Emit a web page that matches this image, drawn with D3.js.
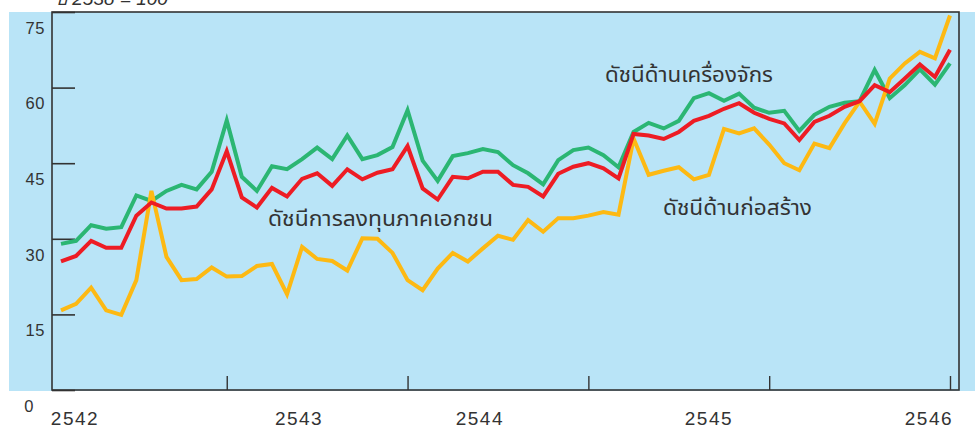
<!DOCTYPE html>
<html>
<head>
<meta charset="utf-8">
<script src="https://cdn.jsdelivr.net/npm/d3@7"></script>
<style>
  body { margin: 0; background: #fff; }
  svg { display: block; }
</style>
</head>
<body>
<svg id="chart" width="975" height="426"></svg>
<script>
// monthly index values, 2542 - 2546 (base year 2538 = 100)
const machinery = [
  29.0, 29.6, 32.7, 32.0, 32.3, 38.6, 37.5, 39.5, 40.7, 39.8, 43.3, 53.5,
  42.3, 39.5, 44.4, 43.8, 45.8, 48.1, 45.8, 50.5, 45.8, 46.6, 48.2, 55.5,
  45.5, 41.5, 46.4, 47.0, 47.8, 47.2, 44.6, 43.0, 40.8, 45.6, 47.6, 48.1,
  46.6, 44.2, 51.2, 53.0, 51.9, 53.4, 57.9, 58.9, 57.4, 58.8, 56.0, 55.0,
  55.4, 51.4, 54.6, 56.2, 57.0, 57.3, 63.5, 57.9, 60.5, 63.6, 60.6, 64.8
];
const privateInv = [
  25.5, 26.6, 29.6, 28.2, 28.2, 34.6, 37.2, 36.0, 36.0, 36.4, 39.8, 47.4,
  38.2, 36.2, 40.1, 38.4, 41.9, 43.0, 40.5, 43.8, 41.8, 43.1, 43.8, 48.4,
  40.0, 37.8, 42.3, 42.0, 43.3, 43.3, 40.7, 40.3, 38.4, 42.9, 44.3, 45.0,
  44.0, 42.0, 50.8, 50.5, 49.8, 51.2, 53.4, 54.4, 55.8, 56.9, 55.0, 53.8,
  52.9, 49.6, 53.2, 54.4, 56.2, 57.3, 60.5, 59.1, 61.8, 64.6, 62.1, 67.5
];
const construction = [
  15.8, 17.1, 20.3, 15.8, 14.9, 21.8, 39.5, 26.4, 21.8, 22.0, 24.3, 22.5,
  22.6, 24.6, 25.0, 19.0, 28.4, 26.0, 25.6, 23.7, 30.1, 30.0, 27.2, 21.8,
  19.8, 24.1, 27.2, 25.5, 28.1, 30.6, 29.8, 33.7, 31.4, 34.1, 34.1, 34.6,
  35.3, 34.8, 49.9, 42.7, 43.5, 44.2, 41.8, 42.7, 51.8, 50.9, 51.9, 48.7,
  45.0, 43.6, 48.9, 48.0, 52.9, 57.2, 52.8, 61.8, 64.8, 67.1, 65.8, 74.3
];
const years = ['2542', '2543', '2544', '2545', '2546'];
const yTicks = [0, 15, 30, 45, 60, 75];
const yearEnds = [11, 23, 35, 47, 59]; // month index where each year ends
const seriesNames = ['ดัชนีด้านเครื่องจักร', 'ดัชนีการลงทุนภาคเอกชน', 'ดัชนีด้านก่อสร้าง'];
const unitText = 'ปี 2538 = 100';

function drawChart() {
    const svg = d3.select('#chart');
    const plot = { left: 52, right: 959, top: 12, bottom: 390 };
    const thaiFont = '"Noto Sans Thai", "Noto Sans", "DejaVu Sans", sans-serif';
    const numFont = '"Liberation Sans", Arial, sans-serif';
    const ink = '#333';

    const xScale = d3.scaleLinear()
        .domain([0, 59])
        .range([61, 950]);
    const yScale = d3.scaleLinear()
        .domain([0, 75])
        .range([plot.bottom, plot.top]);

    // blue panel
    svg.append('rect')
        .attr('x', 9).attr('y', plot.top)
        .attr('width', 975 - 9).attr('height', plot.bottom - plot.top + 1)
        .style('fill', '#b9e4f7');

    // unit text, mostly cut off at the top
    svg.append('text')
        .attr('x', 55).attr('y', 5)
        .style('font-family', numFont)
        .style('font-style', 'italic')
        .style('font-size', '19px')
        .style('fill', ink)
        .text(unitText);

    // y axis ticks (inside)
    const yAxis = svg.append('g')
        .attr('transform', `translate(${plot.left},0)`)
        .call(d3.axisLeft(yScale).tickValues(yTicks).tickSize(-23).tickFormat(''));
    yAxis.select('.domain').remove();
    yAxis.selectAll('line').style('stroke', ink).style('stroke-width', 1.6);

    svg.append('g').selectAll('text')
        .data(yTicks)
        .join('text')
        .attr('x', d => d === 0 ? 34 : 45)
        .attr('y', d => yScale(d) + 16)
        .attr('dy', '0.35em')
        .style('text-anchor', 'end')
        .style('font-family', numFont)
        .style('font-size', '16.5px')
        .style('letter-spacing', '0.6px')
        .style('fill', ink)
        .text(d => d);

    // x axis year-end ticks (upward)
    const xAxis = svg.append('g')
        .attr('transform', `translate(0,${plot.bottom})`)
        .call(d3.axisBottom(xScale).tickValues(yearEnds).tickSize(-14).tickFormat(''));
    xAxis.select('.domain').remove();
    xAxis.selectAll('line').style('stroke', ink).style('stroke-width', 1.4);

    // year labels (placed as in the original layout)
    const labelAt = [0.93, 15.8, 27.8, 43.0, 57.6];
    svg.append('g').selectAll('text')
        .data(years)
        .join('text')
        .attr('x', (d, i) => xScale(labelAt[i]))
        .attr('y', 425)
        .style('text-anchor', 'middle')
        .style('font-family', numFont)
        .style('font-size', '19px')
        .style('letter-spacing', '1.5px')
        .style('fill', ink)
        .text(d => d);

    // frame
    svg.append('rect')
        .attr('x', plot.left).attr('y', plot.top)
        .attr('width', plot.right - plot.left).attr('height', plot.bottom - plot.top)
        .style('fill', 'none')
        .style('stroke', ink)
        .style('stroke-width', 1.6);

    const line = d3.line()
        .x((d, i) => xScale(i))
        .y(d => yScale(d));

    const series = [
        { values: machinery, color: '#2bb673' },
        { values: construction, color: '#fdb913' },
        { values: privateInv, color: '#ed1c24' }
    ];
    svg.append('g').selectAll('path')
        .data(series)
        .join('path')
        .attr('d', d => line(d.values))
        .style('fill', 'none')
        .style('stroke', d => d.color)
        .style('stroke-width', 4)
        .style('stroke-linejoin', 'miter');

    // series labels
    const labels = [
        { text: seriesNames[0], x: 605, y: 82, w: 168 },
        { text: seriesNames[1], x: 268, y: 226, w: 225 },
        { text: seriesNames[2], x: 663, y: 215, w: 149 }
    ];
    svg.append('g').selectAll('text')
        .data(labels)
        .join('text')
        .attr('x', d => d.x)
        .attr('y', d => d.y)
        .attr('textLength', d => d.w)
        .attr('lengthAdjust', 'spacingAndGlyphs')
        .style('font-family', thaiFont)
        .style('font-size', '21px')
        .style('fill', ink)
        .text(d => d.text);
}

createChart = drawChart;
createChart();
</script>
</body>
</html>
